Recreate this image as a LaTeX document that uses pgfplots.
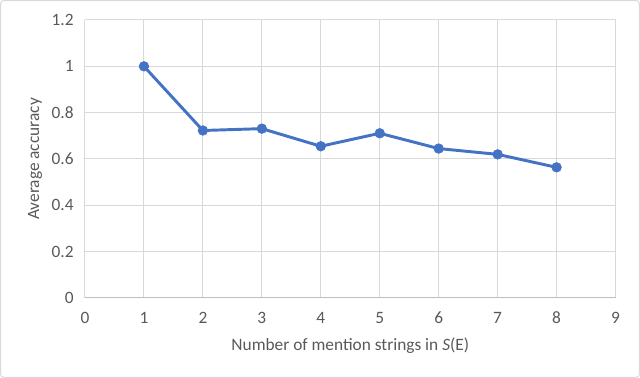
\documentclass[border=0pt]{standalone}
\usepackage{pgfplots}
\pgfplotsset{compat=1.18}
\usepackage{fontspec}
\setmainfont{Carlito}
\definecolor{xlblue}{HTML}{4472C4}
\definecolor{gridgray}{HTML}{D9D9D9}
\definecolor{txtgray}{HTML}{595959}
\begin{document}
\begin{tikzpicture}[x=1pt,y=1pt]
% frame of the whole chart: 640 x 378 px at 0.75pt/px, axis origin at px (85,298)
\path[use as bounding box] (-63.75,-60) rectangle (416.25,223.5);
\draw[gridgray, line width=0.75pt, rounded corners=2pt] (-63.2,-59.45) rectangle (415.7,222.95);
\begin{axis}[
    at={(0,0)}, anchor=south west,
    scale only axis,
    width=397.9pt, height=208.5pt,
    xmin=0, xmax=9, ymin=0, ymax=1.2,
    xtick={0,1,...,9},
    ytick={0,0.2,0.4,0.6,0.8,1,1.2},
    yticklabels={0,0.2,0.4,0.6,0.8,1,1.2},
    grid=major,
    grid style={gridgray, line width=0.75pt},
    axis line style={draw=none},
    major tick length=0pt,
    tick label style={font=\fontsize{13}{15}\selectfont, text=txtgray},
    /pgf/number format/assume math mode=true,
    xticklabel style={yshift=-7pt},
    yticklabel style={xshift=-5pt},
    label style={font=\fontsize{13}{15}\selectfont, text=txtgray},
    xlabel={Number of mention strings in \textit{S}(E)},
    ylabel={Average accuracy},
    xlabel style={at={(axis description cs:0.5,0)}, anchor=center, yshift=-35.5pt},
    ylabel style={at={(axis description cs:0,0.5)}, anchor=center, yshift=37.5pt},
    clip=false
]
\draw[color=gray!50, line width=0.75pt] (axis cs:0,0) -- (axis cs:9,0);
\addplot[xlblue, line width=2.2pt, mark=*, mark size=3.6pt, mark options={solid, fill=xlblue, draw=xlblue, line width=0.5pt}]
coordinates {
(1,1.000) (2,0.723) (3,0.731) (4,0.655) (5,0.711) (6,0.645) (7,0.620) (8,0.564)
};
\end{axis}
\end{tikzpicture}
\end{document}
